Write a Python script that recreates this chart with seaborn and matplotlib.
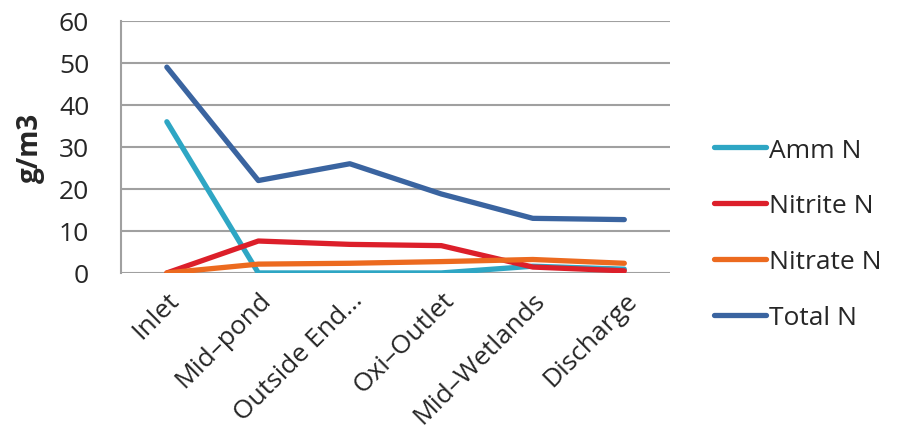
import pandas as pd
import matplotlib.pyplot as plt
import seaborn as sns

# Sampling sites along the treatment train
sites = ['Inlet', 'Mid–pond', 'Outside End…', 'Oxi–Outlet', 'Mid–Wetlands', 'Discharge']

# Nitrogen concentrations (g/m3)
amm_n = [36.0, 0.0, 0.0, 0.0, 1.6, 0.9]
nitrite_n = [0.0, 7.6, 6.8, 6.5, 1.4, 0.5]
nitrate_n = [0.0, 2.1, 2.3, 2.7, 3.2, 2.3]
total_n = [49.0, 22.0, 26.0, 18.8, 13.0, 12.7]

series_names = ['Amm N', 'Nitrite N', 'Nitrate N', 'Total N']
series_colors = ['#2ea6c4', '#dc1f2a', '#ec6a1f', '#3a64a0']

# Long format table for seaborn
frames = []
for name, vals in zip(series_names, [amm_n, nitrite_n, nitrate_n, total_n]):
    frames.append(pd.DataFrame({'pos': range(len(sites)), 'value': vals, 'series': name}))
df = pd.concat(frames, ignore_index=True)

sns.set_style('white')
plt.rcParams['font.family'] = ['Open Sans', 'DejaVu Sans']

fig = plt.figure(figsize=(8.97, 4.39), dpi=100)
ax = fig.add_axes([0.135, 0.376, 0.612, 0.574])

sns.lineplot(data=df, x='pos', y='value', hue='series', hue_order=series_names,
             palette=series_colors, linewidth=3.8, sort=False, ax=ax,
             solid_capstyle='round', solid_joinstyle='round')

ax.set_xlim(-0.5, len(sites) - 0.5)
ax.set_ylim(0, 60)
ax.set_yticks(range(0, 61, 10))
ax.yaxis.grid(True, color='#a0a0a0', linewidth=1.5)
ax.set_axisbelow(True)
for s in ['top', 'right', 'bottom']:
    ax.spines[s].set_visible(False)
ax.spines['left'].set_color('#a0a0a0')
ax.spines['left'].set_linewidth(1.5)

ax.set_xticks(range(len(sites)))
ax.set_xticklabels(sites, rotation=45, ha='right', rotation_mode='anchor', fontsize=19)
ax.tick_params(axis='x', length=0, pad=10)
ax.tick_params(axis='y', length=0, pad=23, labelsize=19)
ax.set_xlabel('')
ax.set_ylabel('g/m3', fontsize=20, fontweight='bold', labelpad=10)

leg = ax.legend(loc='center left', bbox_to_anchor=(1.06, 0.155), frameon=False,
                fontsize=19, handlelength=2.0, handletextpad=0.1, labelspacing=1.17,
                borderaxespad=0)
for line in leg.get_lines():
    line.set_linewidth(3.8)
    line.set_solid_capstyle('round')

fig.savefig('out.png', dpi=100)
